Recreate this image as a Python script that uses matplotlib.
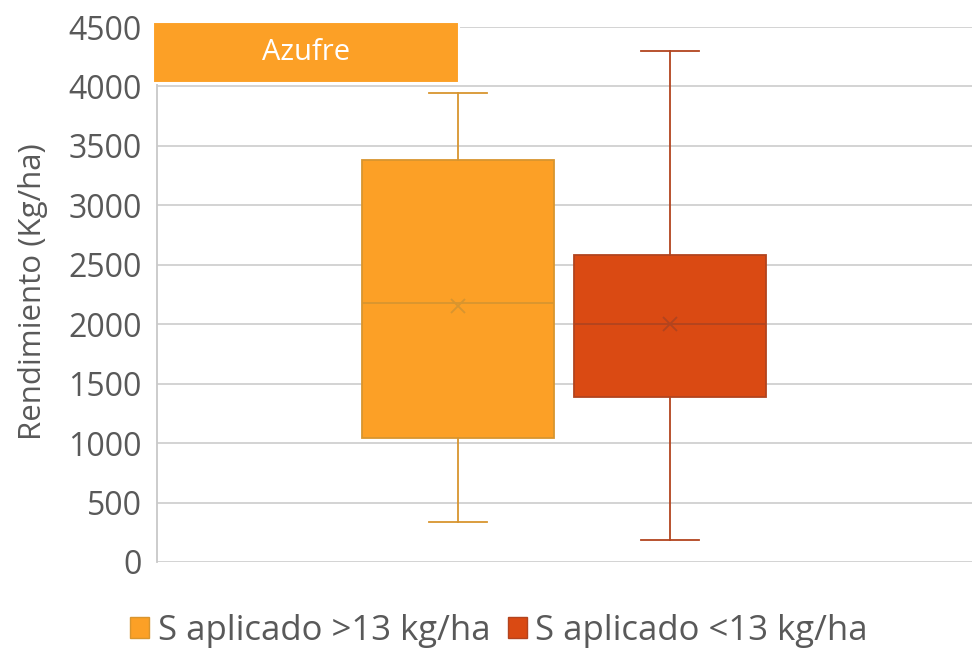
import matplotlib.pyplot as plt
from matplotlib.patches import Patch

# ---- data ----
series = ["S aplicado >13 kg/ha", "S aplicado <13 kg/ha"]
whisker_low = [335, 185]
q1 = [1040, 1390]
median = [2180, 2005]
mean = [2155, 2000]
q3 = [3385, 2580]
whisker_high = [3945, 4295]
y_ticks = [0, 500, 1000, 1500, 2000, 2500, 3000, 3500, 4000, 4500]

fills = ["#FCA026", "#DA4A13"]
edges = ["#D8952F", "#B2441F"]
GRAY = "#595959"

plt.rcParams["font.family"] = ["Open Sans", "DejaVu Sans"]

fig = plt.figure(figsize=(9.72, 6.5), dpi=100)
ax = fig.add_axes([157 / 972, 1 - 562 / 650, (972 - 157) / 972, (562 - 27) / 650])

stats = []
for i in range(len(series)):
    stats.append(dict(med=median[i], q1=q1[i], q3=q3[i], whislo=whisker_low[i],
                      whishi=whisker_high[i], mean=mean[i], fliers=[], label=series[i]))

positions = [1, 2]
for i, st in enumerate(stats):
    ax.bxp([st], positions=[positions[i]], widths=0.91, patch_artist=True,
           showmeans=True, showfliers=False,
           boxprops=dict(facecolor=fills[i], edgecolor=edges[i], linewidth=1.3),
           medianprops=dict(color=edges[i], linewidth=1.3),
           whiskerprops=dict(color=edges[i], linewidth=1.3),
           capprops=dict(color=edges[i], linewidth=1.3),
           meanprops=dict(marker="x", markeredgecolor=edges[i], markersize=10,
                          markeredgewidth=1.3),
           capwidths=0.27, zorder=3)

ax.set_xlim(1 - 301 / 212, 1 + (972 - 458) / 212)
ax.set_ylim(0, 4500)
ax.set_yticks(y_ticks)
ax.set_yticklabels([str(t) for t in y_ticks])
ax.set_xticks([])
ax.tick_params(axis="y", length=0, labelsize=23, labelcolor=GRAY, pad=11)
ax.grid(axis="y", color="#D0D0D0", linewidth=1.3, zorder=0)
ax.set_axisbelow(True)
for side in ["top", "right", "bottom"]:
    ax.spines[side].set_visible(False)
ax.spines["left"].set_color("#C8C8C8")
ax.spines["left"].set_linewidth(1.3)

fig.text(33 / 972, 1 - 292 / 650, "Rendimiento (Kg/ha)", rotation=90,
         ha="center", va="center", fontsize=22.5, color=GRAY)

# "Azufre" header box
fig.patches.append(plt.Rectangle((153 / 972, 1 - 83 / 650), (459 - 153) / 972, (83 - 22) / 650,
                                 transform=fig.transFigure, facecolor=fills[0],
                                 edgecolor="white", linewidth=1.5, zorder=5))
fig.text(306 / 972, 1 - 53 / 650, "Azufre", ha="center", va="center",
         fontsize=21, color="white", zorder=6)

handles = [Patch(facecolor=fills[i], edgecolor=edges[i], label=series[i]) for i in range(2)]
fig.legend(handles=handles, loc="center", bbox_to_anchor=(499 / 972, 1 - 631 / 650),
           ncol=2, frameon=False, fontsize=25, labelcolor=GRAY, handlelength=0.55,
           handleheight=0.55, handletextpad=0.25, columnspacing=0.5)

fig.savefig("out.png", dpi=100)
